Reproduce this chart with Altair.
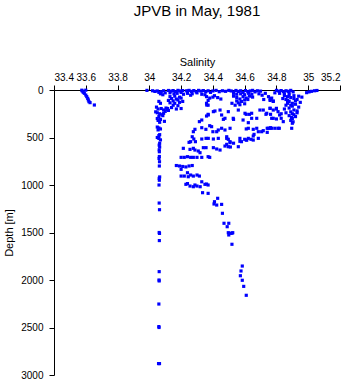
import altair as alt
import pandas as pd

# Salinity tick labels / depth tick labels
x_ticks = [33.4, 33.6, 33.8, 34.0, 34.2, 34.4, 34.6, 34.8, 35.0, 35.2]
y_ticks = [0, 500, 1000, 1500, 2000, 2500, 3000]

fresh_cast = [(33.575, 2), (33.600, 2), (33.578, 11), (33.584, 24), (33.591, 35),
              (33.600, 53), (33.606, 70), (33.612, 88), (33.616, 105), (33.620, 123),
              (33.627, 133), (33.654, 158)]

deep_column = [(34.060, 120), (34.070, 140), (34.045, 180), (34.055, 200), (34.075, 195),
               (34.090, 210), (34.100, 225), (34.050, 240), (34.065, 250), (34.080, 260),
               (34.110, 205), (34.120, 215), (34.060, 280), (34.085, 270), (34.050, 300),
               (34.070, 310), (34.095, 330), (34.055, 320), (34.065, 340), (34.040, 230),
               (34.090, 245), (34.105, 190), (34.115, 195),
               (34.050, 390), (34.060, 400), (34.070, 410), (34.055, 420), (34.065, 470),
               (34.060, 480), (34.050, 500), (34.060, 510), (34.070, 525), (34.065, 560),
               (34.062, 580), (34.065, 600), (34.062, 630), (34.063, 650), (34.063, 700),
               (34.061, 720), (34.064, 755), (34.063, 800), (34.065, 915), (34.062, 930),
               (34.063, 950), (34.061, 1000), (34.062, 1190), (34.064, 1260), (34.062, 1500),
               (34.064, 1510), (34.063, 1585), (34.062, 1912), (34.061, 2000), (34.062, 2010),
               (34.060, 2253), (34.060, 2490), (34.061, 2500), (34.058, 2880), (34.064, 2880)]

surface_band = [(33.985, 4), (34.02, 8), (34.035, 15), (34.05, 10), (34.06, 25), (34.075, 18),
                (34.09, 8), (34.10, 30), (34.07, 40), (34.085, 50),
                (34.12, 5), (34.135, 12), (34.15, 6), (34.165, 18), (34.18, 4), (34.195, 10),
                (34.21, 6), (34.13, 30), (34.155, 40), (34.175, 35), (34.20, 25), (34.215, 45),
                (34.235, 8), (34.25, 4), (34.265, 15), (34.28, 6), (34.295, 20), (34.31, 4),
                (34.325, 12), (34.34, 6), (34.355, 18), (34.37, 8), (34.385, 25), (34.24, 35),
                (34.27, 40), (34.30, 30), (34.33, 45), (34.26, 55), (34.35, 50),
                (34.40, 10), (34.42, 4), (34.44, 18), (34.46, 8), (34.48, 14), (34.50, 4),
                (34.515, 10), (34.53, 20), (34.545, 5), (34.56, 15), (34.575, 8), (34.59, 25),
                (34.605, 6), (34.62, 18), (34.635, 10), (34.65, 4), (34.665, 20), (34.68, 8),
                (34.70, 12), (34.53, 35), (34.55, 45), (34.575, 40), (34.60, 50), (34.625, 35),
                (34.645, 45),
                (34.80, 4), (34.815, 12), (34.83, 6), (34.845, 18), (34.86, 8), (34.875, 14),
                (34.89, 4), (34.905, 20), (34.79, 30), (34.82, 35), (34.85, 40), (34.88, 30),
                (34.99, 28), (35.005, 20), (35.02, 14), (35.04, 8), (35.055, 5)]

upper_layer = [(34.13, 70), (34.16, 65), (34.19, 75), (34.14, 90), (34.17, 95), (34.20, 85),
               (34.12, 110), (34.15, 115), (34.18, 105), (34.21, 120), (34.13, 135), (34.16, 140),
               (34.19, 130), (34.15, 160), (34.18, 165), (34.14, 185), (34.17, 200), (34.20, 195),
               (34.36, 70), (34.38, 85), (34.40, 75), (34.43, 80), (34.45, 95), (34.37, 110),
               (34.36, 140), (34.37, 160), (34.41, 60),
               (34.53, 65), (34.55, 80), (34.57, 95), (34.60, 105), (34.58, 120), (34.56, 135),
               (34.59, 70), (34.61, 85), (34.62, 100), (34.55, 115), (34.57, 155), (34.60, 145),
               (34.63, 65), (34.65, 75), (34.52, 140), (34.54, 160),
               (34.69, 40), (34.71, 55), (34.73, 35), (34.75, 70), (34.77, 85), (34.72, 100),
               (34.76, 110), (34.78, 120), (34.765, 95), (34.76, 193), (34.78, 211), (34.80, 200),
               (34.77, 298), (34.80, 305), (34.83, 298), (34.76, 95), (34.78, 116), (34.83, 250)]

saline_core = [(34.85, 60), (34.87, 70), (34.89, 80), (34.91, 90), (34.93, 100), (34.88, 120),
               (34.90, 140), (34.86, 160), (34.92, 150), (34.90, 170), (34.88, 190), (34.91, 210),
               (34.89, 230), (34.90, 250), (34.88, 270), (34.92, 280), (34.90, 300), (34.89, 320),
               (34.94, 180), (34.95, 130), (34.87, 110), (34.84, 90), (34.93, 220), (34.86, 240),
               (34.88, 55), (34.91, 60), (34.94, 65), (34.96, 75), (34.92, 115), (34.87, 140),
               (34.85, 200), (34.91, 260), (34.895, 290), (34.905, 335), (34.90, 350),
               (34.93, 240), (34.86, 100), (34.89, 160)]

mid_scatter = [(34.371, 263), (34.403, 228), (34.445, 211), (34.455, 263), (34.497, 228),
               (34.528, 298), (34.56, 211), (34.602, 245), (34.644, 245), (34.644, 298),
               (34.676, 298), (34.696, 211), (34.717, 211), (34.739, 245), (34.76, 193),
               (34.78, 298), (34.77, 403), (34.749, 403), (34.707, 439), (34.676, 403),
               (34.623, 403), (34.508, 403), (34.455, 403), (34.424, 439), (34.392, 386),
               (34.371, 509), (34.434, 509), (34.487, 509), (34.508, 544), (34.613, 527),
               (34.623, 509), (34.654, 527),
               (34.361, 158), (34.315, 333), (34.33, 316), (34.36, 274), (34.37, 256),
               (34.413, 221), (34.466, 309), (34.476, 298), (34.53, 309), (34.59, 316),
               (34.623, 344), (34.61, 256), (34.63, 256), (34.734, 256), (34.763, 256),
               (34.80, 193), (34.81, 228), (34.82, 263), (34.843, 333), (34.896, 403),
               (34.287, 414), (34.277, 439), (34.33, 397), (34.356, 414), (34.38, 376),
               (34.40, 439), (34.434, 421), (34.476, 421), (34.61, 410), (34.654, 414),
               (34.686, 439), (34.717, 428), (34.742, 403), (34.763, 397), (34.79, 403),
               (34.818, 403), (34.742, 446), (34.654, 484), (34.659, 467), (34.686, 509),
               (34.76, 403), (34.81, 403),
               (34.27, 492), (34.28, 516), (34.29, 544), (34.26, 544), (34.25, 551),
               (34.33, 516), (34.357, 509), (34.403, 516), (34.487, 492), (34.497, 519),
               (34.508, 554), (34.57, 509), (34.58, 544), (34.60, 519), (34.64, 519),
               (34.497, 597), (34.487, 572), (34.56, 597), (34.214, 614), (34.256, 625),
               (34.277, 614), (34.287, 632), (34.308, 642), (34.319, 660), (34.34, 607),
               (34.357, 607), (34.403, 607), (34.424, 621), (34.445, 632), (34.476, 590),
               (34.51, 600), (34.53, 560), (34.57, 540), (34.61, 527)]

descending_cast = [(34.20, 709), (34.22, 709), (34.24, 702), (34.26, 709), (34.277, 709),
                   (34.30, 709), (34.33, 709), (34.38, 709), (34.37, 702),
                   (34.17, 795), (34.19, 800), (34.21, 805), (34.23, 810), (34.25, 800),
                   (34.27, 795), (34.20, 835), (34.24, 871),
                   (34.20, 906), (34.22, 906), (34.245, 913), (34.277, 906), (34.315, 906),
                   (34.26, 895), (34.30, 895),
                   (34.23, 993), (34.256, 1011), (34.277, 1018), (34.287, 1000), (34.30, 1011),
                   (34.35, 993), (34.37, 1000), (34.33, 966), (34.24, 985), (34.32, 1018),
                   (34.36, 990),
                   (34.335, 1081), (34.37, 1088), (34.43, 1140), (34.41, 1176), (34.424, 1211),
                   (34.455, 1204), (34.407, 1200), (34.46, 1298), (34.47, 1403), (34.50, 1403),
                   (34.49, 1439), (34.51, 1508), (34.52, 1508), (34.50, 1526), (34.497, 1502),
                   (34.525, 1502), (34.52, 1624), (34.585, 1853), (34.577, 1905), (34.573, 1955),
                   (34.585, 2003), (34.594, 2067), (34.61, 2161)]

groups = [fresh_cast, deep_column, surface_band, upper_layer, saline_core,
          mid_scatter, descending_cast]
df = pd.DataFrame([{"salinity": s, "depth": d} for g in groups for s, d in g])

FONT = "Liberation Sans"

chart = alt.Chart(df).mark_square(size=10, color="#0000ff", opacity=1, filled=True).encode(
    x=alt.X("salinity:Q",
            scale=alt.Scale(domain=[33.4, 35.2], nice=False, zero=False),
            axis=alt.Axis(orient="top", values=x_ticks, format="~g", title="Salinity",
                          tickSize=5, labelPadding=3, titlePadding=5)),
    y=alt.Y("depth:Q",
            scale=alt.Scale(domain=[0, 3000], reverse=True, nice=False, zero=False),
            axis=alt.Axis(values=y_ticks, format="d", title="Depth [m]",
                          tickSize=5, labelPadding=6, titlePadding=6)),
).properties(
    width=286, height=285,
    title=alt.TitleParams("JPVB in May, 1981", font=FONT, fontSize=15, fontWeight="normal",
                          color="black", offset=37, anchor="middle"),
    autosize=alt.AutoSizeParams(type="none"),
    padding={"left": 54, "top": 90, "right": 13, "bottom": 9},
).configure_view(stroke=None).configure_axis(
    grid=False, domainColor="black", tickColor="black", domainWidth=1, tickWidth=1,
    labelColor="black", titleColor="black", labelFont=FONT, titleFont=FONT,
    labelFontSize=10, titleFontSize=11, titleFontWeight="normal",
)

chart.save("out.html", embed_options={"renderer": "svg", "actions": False})
